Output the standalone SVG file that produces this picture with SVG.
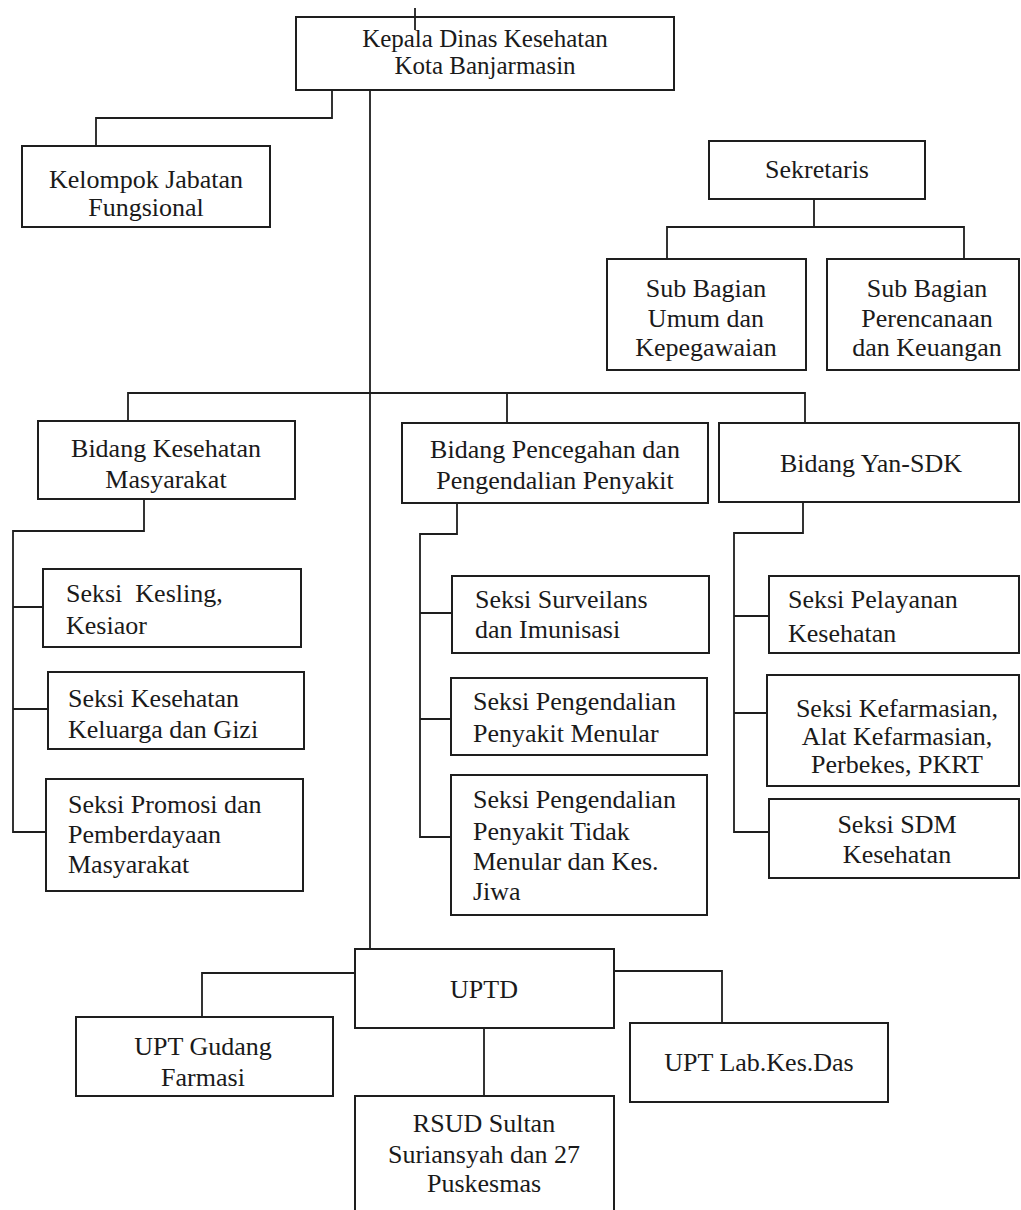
<svg xmlns="http://www.w3.org/2000/svg" width="1021" height="1210" viewBox="0 0 1021 1210">
<style>
  .box { fill: #ffffff; stroke: #1e1e1e; stroke-width: 2; }
  .ln { fill: none; stroke: #1e1e1e; stroke-width: 1.8; }
  .c { text-anchor: middle; }
  .l { text-anchor: start; }
</style>
<rect x="0" y="0" width="1021" height="1210" fill="#ffffff"/>

<g id="connectors">
  <path class="ln" d="M332 90 V118 H96 V146"/>
  <path class="ln" d="M370 90 V949"/>
  <path class="ln" d="M814 199 V227 M667 259 V227 H964 V259"/>
  <path class="ln" d="M128 421 V393 H805 V423 M507 393 V423"/>
  <path class="ln" d="M144 499 V531 H13 V832 H46 M13 607 H43 M13 709 H48"/>
  <path class="ln" d="M457 503 V534 H420 V837 H451 M420 613 H452 M420 719 H451"/>
  <path class="ln" d="M803 502 V533 H734 V832 H769 M734 616 H769 M734 713 H767"/>
  <path class="ln" d="M355 973 H202 V1017"/>
  <path class="ln" d="M614 971 H722 V1023"/>
  <path class="ln" d="M484 1028 V1096"/>
</g>

<g font-family="Liberation Serif" font-size="26" fill="#1a1a1a">
<g id="kepala">
  <rect class="box" x="296" y="17" width="378" height="73"/>
  <text class="c" x="485" y="47" font-size="25">Kepala Dinas Kesehatan</text>
  <text class="c" x="485" y="74" font-size="25">Kota Banjarmasin</text>
  <path class="ln" d="M415 8 V30"/>
</g>

<g id="kelompok">
  <rect class="box" x="22" y="146" width="248" height="81"/>
  <text class="c" x="146" y="188">Kelompok Jabatan</text>
  <text class="c" x="146" y="216">Fungsional</text>
</g>

<g id="sekretaris">
  <rect class="box" x="709" y="141" width="216" height="58"/>
  <text class="c" x="817" y="178">Sekretaris</text>
</g>

<g id="subbag-umum">
  <rect class="box" x="607" y="259" width="199" height="111"/>
  <text class="c" x="706" y="297">Sub Bagian</text>
  <text class="c" x="706" y="327">Umum dan</text>
  <text class="c" x="706" y="356">Kepegawaian</text>
</g>

<g id="subbag-perencanaan">
  <rect class="box" x="827" y="259" width="192" height="111"/>
  <text class="c" x="927" y="297">Sub Bagian</text>
  <text class="c" x="927" y="327">Perencanaan</text>
  <text class="c" x="927" y="356">dan Keuangan</text>
</g>

<g id="bidang-kesmas">
  <rect class="box" x="38" y="421" width="257" height="78"/>
  <text class="c" x="166" y="457">Bidang Kesehatan</text>
  <text class="c" x="166" y="488">Masyarakat</text>
</g>

<g id="bidang-p2p">
  <rect class="box" x="402" y="423" width="306" height="80"/>
  <text class="c" x="555" y="458">Bidang Pencegahan dan</text>
  <text class="c" x="555" y="489">Pengendalian Penyakit</text>
</g>

<g id="bidang-yansdk">
  <rect class="box" x="719" y="423" width="300" height="79"/>
  <text class="c" x="871" y="472">Bidang Yan-SDK</text>
</g>

<g id="seksi-kesling">
  <rect class="box" x="43" y="569" width="258" height="78"/>
  <text class="l" x="66" y="602" xml:space="preserve">Seksi  Kesling,</text>
  <text class="l" x="66" y="634">Kesiaor</text>
</g>

<g id="seksi-kesga">
  <rect class="box" x="48" y="672" width="256" height="77"/>
  <text class="l" x="68" y="707">Seksi Kesehatan</text>
  <text class="l" x="68" y="738">Keluarga dan Gizi</text>
</g>

<g id="seksi-promosi">
  <rect class="box" x="46" y="779" width="257" height="112"/>
  <text class="l" x="68" y="813">Seksi Promosi dan</text>
  <text class="l" x="68" y="843">Pemberdayaan</text>
  <text class="l" x="68" y="873">Masyarakat</text>
</g>

<g id="seksi-surveilans">
  <rect class="box" x="452" y="576" width="257" height="77"/>
  <text class="l" x="475" y="608">Seksi Surveilans</text>
  <text class="l" x="475" y="638">dan Imunisasi</text>
</g>

<g id="seksi-ppm">
  <rect class="box" x="451" y="678" width="256" height="77"/>
  <text class="l" x="473" y="710">Seksi Pengendalian</text>
  <text class="l" x="473" y="742">Penyakit Menular</text>
</g>

<g id="seksi-pptm">
  <rect class="box" x="451" y="775" width="256" height="140"/>
  <text class="l" x="473" y="808">Seksi Pengendalian</text>
  <text class="l" x="473" y="840">Penyakit Tidak</text>
  <text class="l" x="473" y="870">Menular dan Kes.</text>
  <text class="l" x="473" y="900">Jiwa</text>
</g>

<g id="seksi-pelayanan">
  <rect class="box" x="769" y="576" width="250" height="77"/>
  <text class="l" x="788" y="608">Seksi Pelayanan</text>
  <text class="l" x="788" y="642">Kesehatan</text>
</g>

<g id="seksi-kefarmasian">
  <rect class="box" x="767" y="675" width="252" height="111"/>
  <text class="c" x="897" y="717">Seksi Kefarmasian,</text>
  <text class="c" x="897" y="745">Alat Kefarmasian,</text>
  <text class="c" x="897" y="773">Perbekes, PKRT</text>
</g>

<g id="seksi-sdm">
  <rect class="box" x="769" y="799" width="250" height="79"/>
  <text class="c" x="897" y="833">Seksi SDM</text>
  <text class="c" x="897" y="863">Kesehatan</text>
</g>

<g id="uptd">
  <rect class="box" x="355" y="949" width="259" height="79"/>
  <text class="c" x="484" y="998">UPTD</text>
</g>

<g id="upt-gudang">
  <rect class="box" x="76" y="1017" width="257" height="79"/>
  <text class="c" x="203" y="1055">UPT Gudang</text>
  <text class="c" x="203" y="1086">Farmasi</text>
</g>

<g id="upt-lab">
  <rect class="box" x="630" y="1023" width="258" height="79"/>
  <text class="c" x="759" y="1071">UPT Lab.Kes.Das</text>
</g>

<g id="rsud">
  <rect class="box" x="355" y="1096" width="259" height="124"/>
  <text class="c" x="484" y="1132">RSUD Sultan</text>
  <text class="c" x="484" y="1163">Suriansyah dan 27</text>
  <text class="c" x="484" y="1192">Puskesmas</text>
</g>
</g>
</svg>
